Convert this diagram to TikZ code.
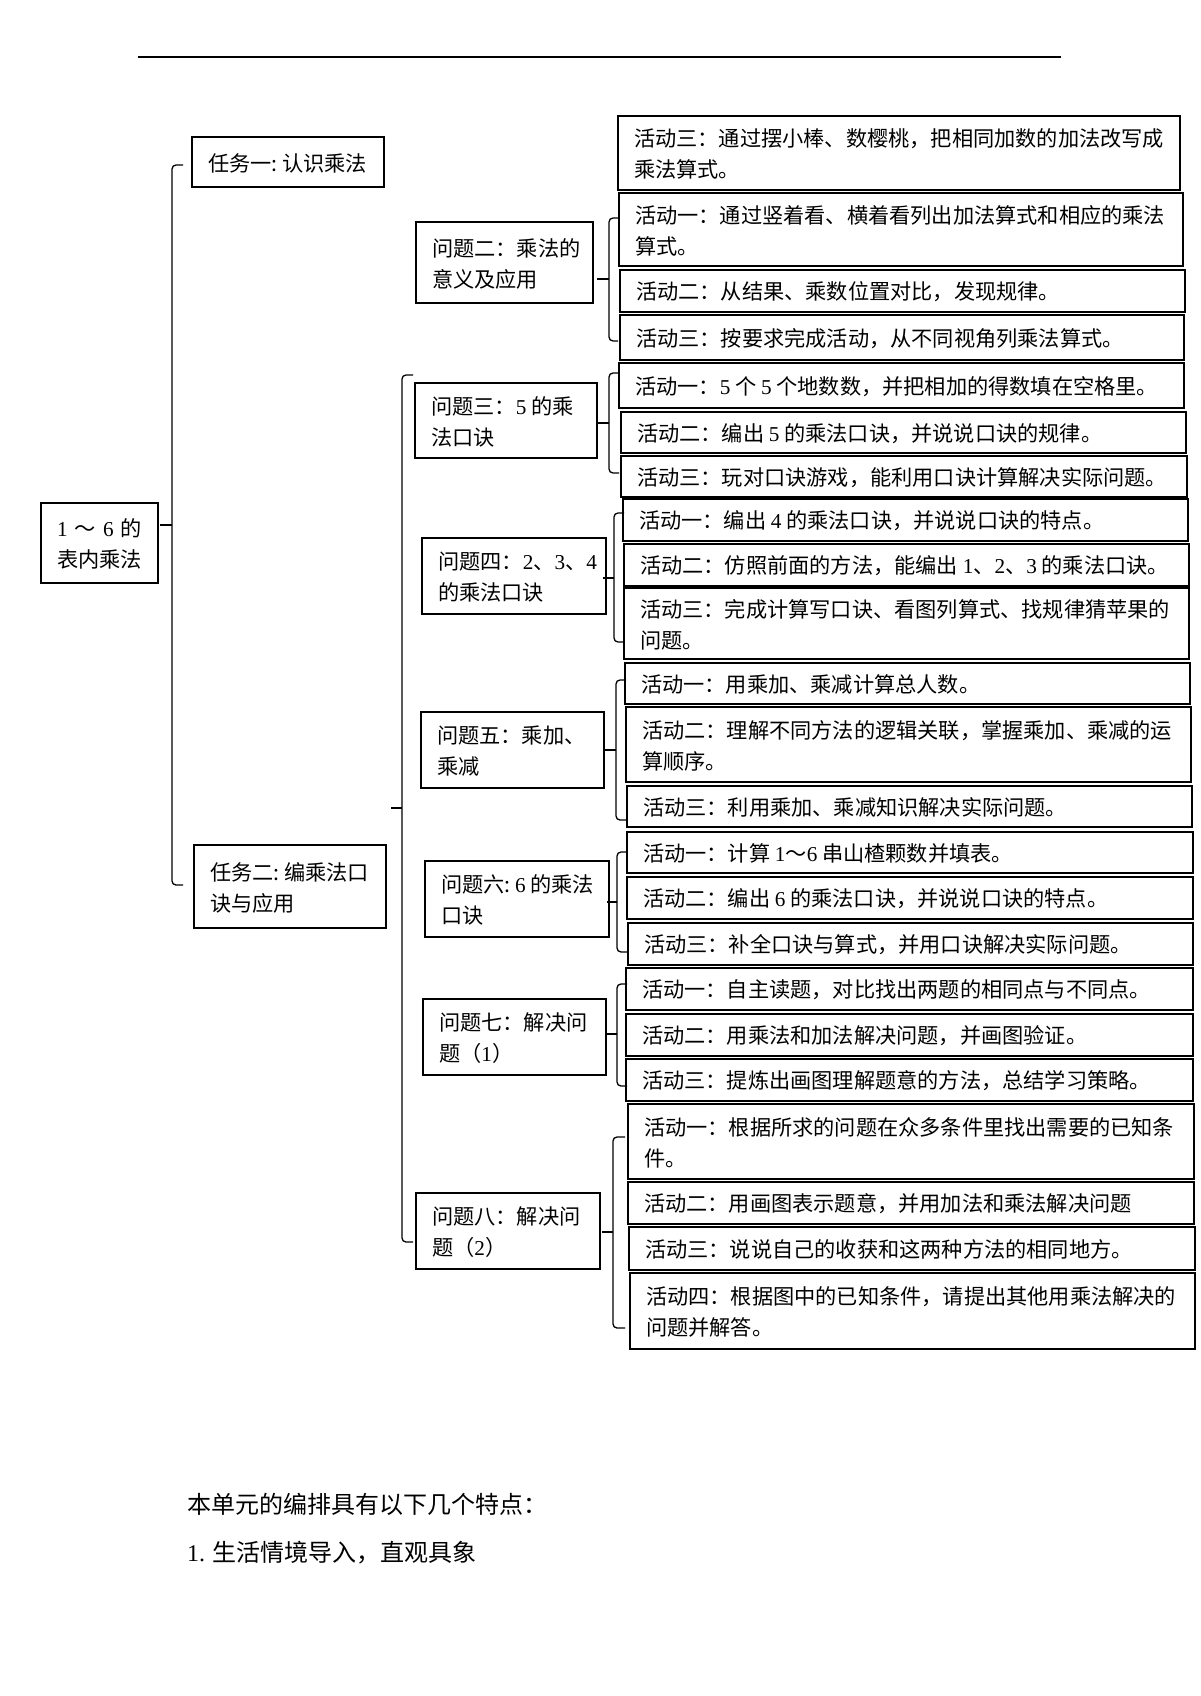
\documentclass[tikz,border=0pt]{standalone}
\usepackage{fontspec}
\setmainfont{Noto Sans CJK SC}
\newfontfamily\tnr{Liberation Serif}
\newcommand\nm[1]{{\tnr #1}}
\newcommand\hc{\makebox[0.5em][l]{:}}
\tikzset{
  box/.style={draw, line width=1.3pt, inner sep=0pt, outer sep=0pt},
  txt/.style={inner sep=0pt, outer sep=0pt, align=left, font=\fontsize{21.2}{31}\selectfont},
  brk/.style={draw, line width=1.3pt, rounded corners=4pt},
  tick/.style={draw, line width=1.3pt},
}
% box: name, x1, y1, x2, y2, text
\newcommand\bx[6]{%
  \pgfmathsetmacro\bw{#4-#2}%
  \pgfmathsetmacro\bh{#5-#3}%
  \pgfmathsetmacro\bcx{(#2+#4)/2}%
  \pgfmathsetmacro\bcy{(#3+#5)/2}%
  \node[box, minimum width=\bw pt, minimum height=\bh pt] (#1) at (\bcx,\bcy) {};%
  \node[txt, anchor=west] (#1-t) at ([xshift=16pt,yshift=-1pt]#1.west) {#6};}
% bracket: name, x, top, mid, bottom, tick end x, hook end x
\newcommand\mybrace[7]{%
  \coordinate (#1-t) at (#7,#3);%
  \coordinate (#1-b) at (#7,#5);%
  \coordinate (#1-m) at (#6,#4);%
  \coordinate (#1-c) at (#2,#4);%
  \draw[brk] (#1-t) -- (#2,#3) -- (#2,#5) -- (#1-b);%
  \draw[tick] (#1-c) -- (#1-m);}
\begin{document}
\begin{tikzpicture}[x=1pt,y=-1pt]
\useasboundingbox (0,0) rectangle (1200,1696);
\fill[white] (0,0) rectangle (1200,1696);

% top rule
\coordinate (ruleL) at (138,57);
\coordinate (ruleR) at (1061,57);
\draw[line width=2pt] (ruleL) -- (ruleR);

% root
\node[box, minimum width=117pt, minimum height=80pt] (root) at (99.5,543) {};
\node[txt, align=center] (root-t) at ([yshift=-1pt]root.center) {\hbox to 85pt{\nm{1}\hfil ～\hfil\nm{6}\hfil 的}\\表内乘法};

% tasks
\bx{t1}{192}{137}{384}{187}{任务一\hc 认识乘法}
\bx{t2}{194}{845}{386}{928}{任务二\hc 编乘法口\\诀与应用}

% activity under task 1
\bx{a0}{618}{116}{1180}{190}{活动三：通过摆小棒、数樱桃，把相同加数的加法改写成\\乘法算式。}

% question 2
\bx{q2}{416}{222}{593}{303}{问题二：乘法的\\意义及应用}
\bx{q2a1}{619}{193}{1183}{266}{活动一：通过竖着看、横着看列出加法算式和相应的乘法\\算式。}
\bx{q2a2}{620}{270}{1185}{312}{活动二：从结果、乘数位置对比，发现规律。}
\bx{q2a3}{620}{315}{1184}{360}{活动三：按要求完成活动，从不同视角列乘法算式。}

% question 3
\bx{q3}{415}{383}{597}{458}{问题三：\nm{5} 的乘\\法口诀}
\bx{q3a1}{619}{363}{1184}{408}{活动一：\nm{5} 个 \nm{5} 个地数数，并把相加的得数填在空格里。}
\bx{q3a2}{621}{412}{1186}{453}{活动二：编出 \nm{5} 的乘法口诀，并说说口诀的规律。}
\bx{q3a3}{621}{456}{1187}{497}{活动三：玩对口诀游戏，能利用口诀计算解决实际问题。}

% question 4
\bx{q4}{422}{538}{606}{614}{问题四：\nm{2}、\nm{3}、\nm{4}\\的乘法口诀}
\bx{q4a1}{623}{499}{1188}{541}{活动一：编出 \nm{4} 的乘法口诀，并说说口诀的特点。}
\bx{q4a2}{624}{544}{1189}{586}{活动二：仿照前面的方法，能编出 \nm{1}、\nm{2}、\nm{3} 的乘法口诀。}
\bx{q4a3}{624}{588}{1189}{659}{活动三：完成计算写口诀、看图列算式、找规律猜苹果的\\问题。}

% question 5
\bx{q5}{421}{712}{604}{788}{问题五：乘加、\\乘减}
\bx{q5a1}{625}{663}{1190}{704}{活动一：用乘加、乘减计算总人数。}
\bx{q5a2}{626}{707}{1191}{782}{活动二：理解不同方法的逻辑关联，掌握乘加、乘减的运\\算顺序。}
\bx{q5a3}{627}{786}{1192}{827}{活动三：利用乘加、乘减知识解决实际问题。}

% question 6
\bx{q6}{425}{861}{609}{937}{问题六\hc\nm{6} 的乘法\\口诀}
\bx{q6a1}{627}{832}{1193}{873}{活动一：计算 \nm{1}～\nm{6} 串山楂颗数并填表。}
\bx{q6a2}{627}{877}{1193}{919}{活动二：编出 \nm{6} 的乘法口诀，并说说口诀的特点。}
\bx{q6a3}{628}{923}{1193}{965}{活动三：补全口诀与算式，并用口诀解决实际问题。}

% question 7
\bx{q7}{423}{999}{606}{1075}{问题七：解决问\\题（\nm{1}）}
\bx{q7a1}{626}{968}{1193}{1010}{活动一：自主读题，对比找出两题的相同点与不同点。}
\bx{q7a2}{626}{1014}{1193}{1056}{活动二：用乘法和加法解决问题，并画图验证。}
\bx{q7a3}{626}{1059}{1193}{1101}{活动三：提炼出画图理解题意的方法，总结学习策略。}

% question 8
\bx{q8}{416}{1193}{600}{1269}{问题八：解决问\\题（\nm{2}）}
\bx{q8a1}{628}{1104}{1194}{1179}{活动一：根据所求的问题在众多条件里找出需要的已知条\\件。}
\bx{q8a2}{628}{1182}{1194}{1224}{活动二：用画图表示题意，并用加法和乘法解决问题}
\bx{q8a3}{629}{1227}{1195}{1270}{活动三：说说自己的收获和这两种方法的相同地方。}
\bx{q8a4}{630}{1273}{1195}{1349}{活动四：根据图中的已知条件，请提出其他用乘法解决的\\问题并解答。}

% brackets
\mybrace{brRoot}{172}{165}{525}{885}{160}{183}
\mybrace{brBig}{402}{375}{808}{1242}{391}{413}
\mybrace{brQ2}{609}{218}{279}{341}{597}{618}
\mybrace{brQ3}{609}{373}{423}{473}{597}{619}
\mybrace{brQ4}{614}{513}{578}{642}{603}{624}
\mybrace{brQ5}{616}{680}{750}{820}{605}{626}
\mybrace{brQ6}{617}{852}{902}{952}{607}{627}
\mybrace{brQ7}{617}{984}{1034}{1086}{606}{627}
\mybrace{brQ8}{613}{1137}{1232}{1328}{602}{625}

% bottom text
\node[inner sep=0pt, anchor=west, font=\fontsize{24}{30}\selectfont] (p1) at (187,1504) {本单元的编排具有以下几个特点：};
\node[inner sep=0pt, anchor=west, font=\fontsize{24}{30}\selectfont] (p2) at (187,1553) {\nm{1.} 生活情境导入，直观具象};
\end{tikzpicture}
\end{document}
